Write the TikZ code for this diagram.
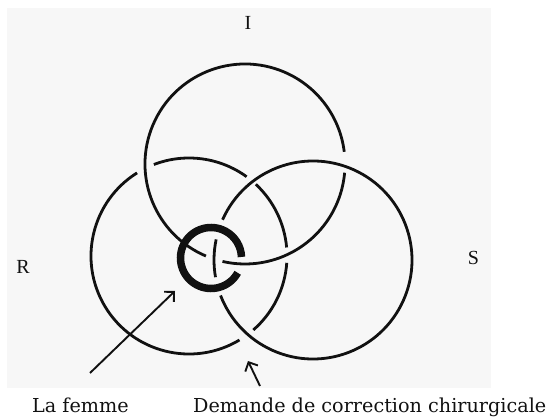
\documentclass[tikz,border=0pt]{standalone}
\usepackage{fontspec}
\setmainfont{DejaVu Serif}
\newfontfamily\rsifont{Liberation Serif}
\usetikzlibrary{arrows.meta}
\definecolor{paper}{HTML}{F7F7F7}
\definecolor{ink}{HTML}{111111}

\begin{document}
\begin{tikzpicture}[x=1pt, y=-1pt,
  circ/.style={draw=ink, line width=2.8pt},
  knot/.style={draw=ink, line width=7.5pt},
  arr/.style={-{Straight Barb[length=7pt, width=14pt]}, draw=ink, line width=1.9pt},
  rsi/.style={font=\rsifont\fontsize{20}{20}\selectfont, text=ink, inner sep=0pt},
  caption/.style={font=\fontsize{19.2}{19.2}\selectfont, text=ink, inner sep=0pt, anchor=base west}
]
  \useasboundingbox (0,0) rectangle (547,417);
  \fill[paper] (7,8) rectangle (491,388);

  \coordinate (cI) at (245,164);
  \coordinate (cR) at (189,256);
  \coordinate (cS) at (313,260);
  \coordinate (cK) at (211,258);

  % imaginaire
  \foreach \a/\b in {5/103, 113/353}
    \draw[circ] (cI) ++(\a:100) arc[start angle=\a, end angle=\b, radius=100];
  % reel
  \foreach \a/\b in {4/49, 59/238, 249/306, 313/355}
    \draw[circ] (cR) ++(\a:98) arc[start angle=\a, end angle=\b, radius=98];
  % symbolique
  \foreach \a/\b in {170/192, 204/519}
    \draw[circ] (cS) ++(\a:99) arc[start angle=\a, end angle=\b, radius=99];
  % the small ring
  \draw[knot] (cK) ++(29:30.5) arc[start angle=29, end angle=358, radius=30.5];

  \node[rsi] (I) at (248,23) {I};
  \node[rsi] (R) at (23,267) {R};
  \node[rsi] (S) at (473.5,258) {S};

  \node[caption] (femme) at (32,412) {La femme};
  \node[caption] (demande) at (193,412) {Demande de correction chirurgicale};

  \coordinate (femmetail) at (90,373);
  \coordinate (femmehead) at (175,291);
  \coordinate (demandetail) at (260,386);
  \coordinate (demandehead) at (248,361);
  \draw[arr] (femmetail) -- (femmehead);
  \draw[arr] (demandetail) -- (demandehead);
\end{tikzpicture}
\end{document}
